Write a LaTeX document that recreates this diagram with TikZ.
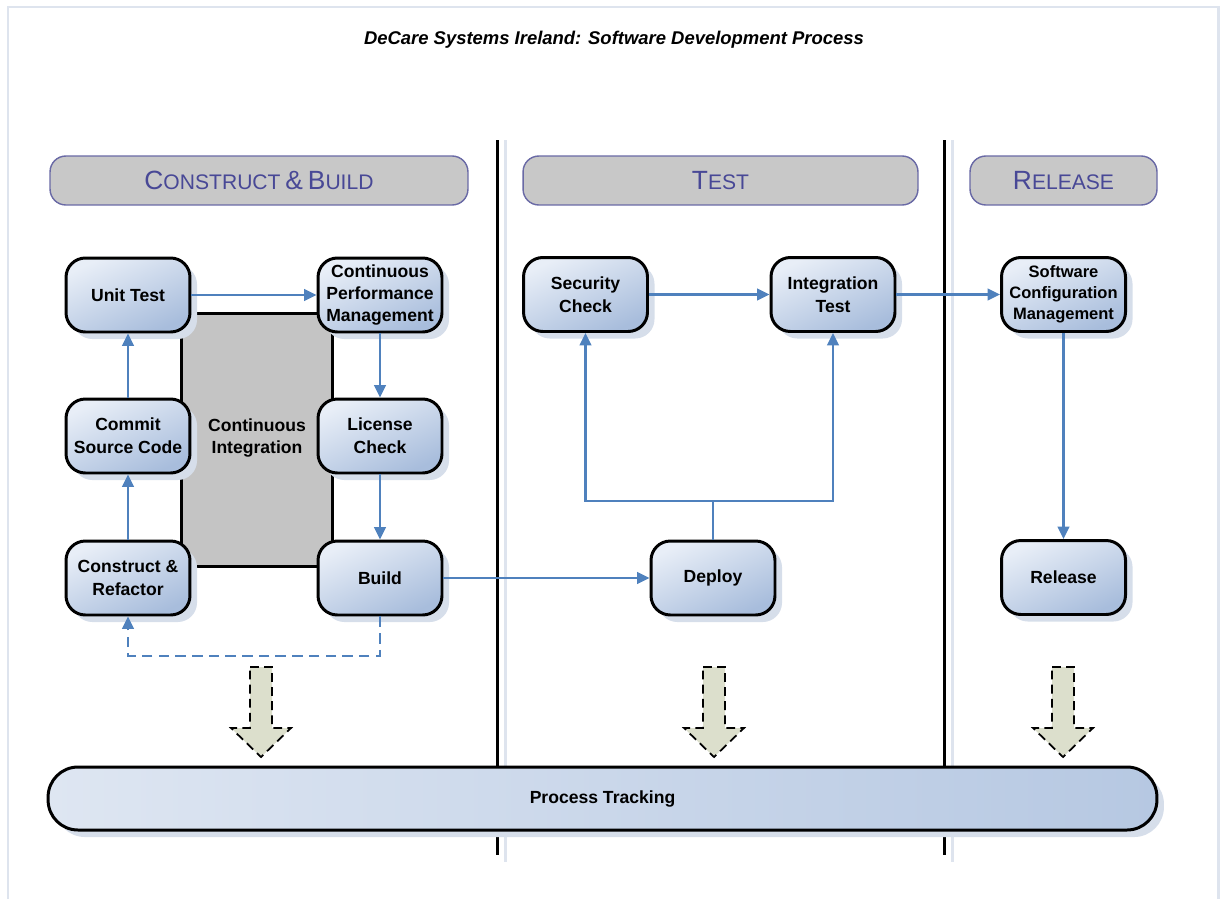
\documentclass[tikz,border=0pt]{standalone}
\usepackage{fontspec}
\setmainfont{Liberation Sans}
\usetikzlibrary{arrows.meta,shadows,calc}
\definecolor{conn}{RGB}{79,129,189}
\definecolor{nodelight}{RGB}{232,238,247}
\definecolor{nodedark}{RGB}{168,189,220}
\definecolor{ptlight}{RGB}{222,230,242}
\definecolor{ptdark}{RGB}{182,200,226}
\definecolor{shadowc}{RGB}{214,222,234}
\definecolor{hdrfill}{RGB}{200,200,200}
\definecolor{hdrline}{RGB}{105,105,165}
\definecolor{hdrtext}{RGB}{72,72,150}
\definecolor{framec}{RGB}{222,228,238}
\definecolor{blockfill}{RGB}{220,223,204}
\definecolor{cigrey}{RGB}{196,196,196}
\newcommand{\fsc}[2]{{\fontsize{15}{17}\selectfont #1}{\fontsize{12}{14}\selectfont #2}}
\tikzset{
  procbox/.style={draw=black, line width=1.7pt, rounded corners=11pt,
    top color=nodelight, bottom color=nodedark, shading angle=25,
    minimum width=2.48cm, minimum height=1.48cm, inner sep=0pt, align=center,
    font=\fontsize{10}{13}\selectfont\bfseries,
    drop shadow={shadow xshift=4pt, shadow yshift=-4pt, fill=shadowc, opacity=1}},
  hdrbox/.style={draw=hdrline, line width=0.8pt, rounded corners=9pt, fill=hdrfill,
    minimum height=0.98cm, inner sep=0pt, text=hdrtext},
  conn/.style={draw=conn, line width=1.4pt, -{Triangle[length=7pt,width=6.5pt]}},
  connline/.style={draw=conn, line width=1.4pt},
  blockarrow/.style={draw=black, line width=1pt, dash pattern=on 5pt off 3pt, fill=blockfill},
  sepline/.style={draw=black, line width=1.7pt},
  sepshadow/.style={draw=framec, line width=1.7pt}
}
\begin{document}
\begin{tikzpicture}[x=0.02cm,y=-0.02cm]
\useasboundingbox (0,0) rectangle (1222,899);
% frame
\draw[framec, line width=1.7pt] (8,899) -- (8,7) -- (1218,7) -- (1218,899);
% title
\node[font=\fontsize{10.5}{12}\selectfont\bfseries\itshape] (title) at (614,40) {DeCare Systems Ireland: Software Development Process};
% separators
\draw[sepshadow] (505,140) -- (505,862);
\draw[sepshadow] (952,140) -- (952,862);
\draw[sepline] (497,140) -- (497,855);
\draw[sepline] (944,140) -- (944,855);
% headers
\node[hdrbox, minimum width=8.36cm] (hcb) at (259,180.5) {\fsc{C}{ONSTRUCT} \fsc{\&}{} \fsc{B}{UILD}};
\node[hdrbox, minimum width=7.9cm] (htest) at (720.5,180.5) {\fsc{T}{EST}};
\node[hdrbox, minimum width=3.74cm] (hrel) at (1063.5,180.5) {\fsc{R}{ELEASE}};
% continuous integration
\node[draw=black, line width=1.7pt, fill=cigrey, minimum width=3.04cm, minimum height=5.08cm,
  inner sep=0pt] (ci) at (257,440) {};
\node[font=\fontsize{10}{13}\selectfont\bfseries, align=center] (citext) at (257,438) {Continuous\\Integration};
% process nodes
\node[procbox] (ut) at (128,295) {Unit Test};
\node[procbox, font=\fontsize{10}{12.5}\selectfont\bfseries] (cpm) at (380,295) {Continuous\\Performance\\Management};
\node[procbox] (csc) at (128,436) {Commit\\Source Code};
\node[procbox] (lc) at (380,436) {License\\Check};
\node[procbox] (cr) at (128,578) {Construct \&\\Refactor};
\node[procbox] (build) at (380,578) {Build};
\node[procbox] (sc) at (585.5,294.5) {Security\\Check};
\node[procbox] (it) at (833,294.5) {Integration\\Test};
\node[procbox] (dep) at (713,578) {Deploy};
\node[procbox, font=\fontsize{9.4}{12}\selectfont\bfseries] (scm) at (1063.5,294.5) {Software\\Configuration\\Management};
\node[procbox] (rel) at (1063.5,577.5) {Release};
% block arrows
\foreach \cx in {261, 714, 1063}{
  \draw[blockarrow] (\cx-11,667) -- (\cx+11,667) -- (\cx+11,728) -- (\cx+30,728) -- (\cx,757)
     -- (\cx-30,728) -- (\cx-11,728) -- cycle;
}
% process tracking
\node[draw=black, line width=1.7pt, rounded corners=17pt, left color=ptlight, right color=ptdark,
  minimum width=22.18cm, minimum height=1.26cm, inner sep=0pt, font=\fontsize{10}{12}\selectfont\bfseries,
  drop shadow={shadow xshift=4pt, shadow yshift=-4pt, fill=shadowc, opacity=1}] (pt) at (602.5,798.5) {Process Tracking};
% connectors
\draw[conn] (ut) -- (cpm);
\draw[conn] (cpm) -- (lc);
\draw[conn] (lc) -- (build);
\draw[conn] (cr) -- (csc);
\draw[conn] (csc) -- (ut);
\draw[conn] (build.east) -- (dep.west);
\coordinate (jn) at (713,501);
\draw[connline] (dep.north) -- (jn);
\draw[conn] (jn) -| (sc.south);
\draw[conn] (jn) -| (it.south);
\draw[conn] (sc) -- (it);
\draw[conn] (it) -- (scm);
\draw[conn] (scm) -- (rel);
\coordinate (dj) at (380,656);
\draw[conn, dash pattern=on 6pt off 3.5pt] (build.south) -- (dj) -| (cr.south);
\end{tikzpicture}
\end{document}
